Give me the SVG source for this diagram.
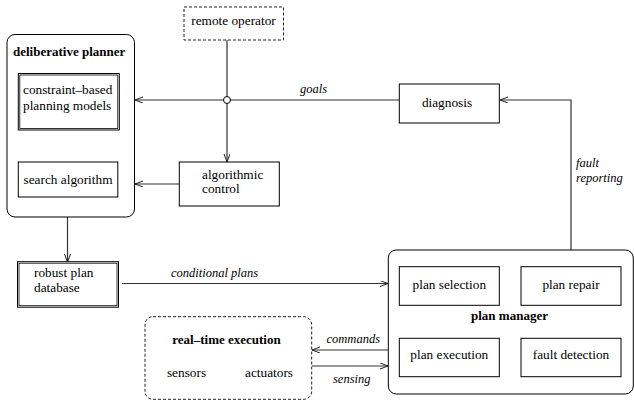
<svg xmlns="http://www.w3.org/2000/svg" width="634" height="403" viewBox="0 0 634 403">
<defs>
<marker id="ah" markerWidth="10" markerHeight="8" refX="8" refY="3" orient="auto" markerUnits="userSpaceOnUse">
<path d="M0,0 L8,3 L0,6" fill="none" stroke="#222" stroke-width="1"/>
</marker>
</defs>
<style>
.box{fill:#fff;stroke:#000;stroke-width:1}
.in{fill:none;stroke:#000;stroke-width:0.8}
.dash{fill:none;stroke:#222;stroke-width:1;stroke-dasharray:3,2}
.t{font-family:'Liberation Serif','DejaVu Serif','Noto Serif','Times New Roman',serif;font-size:13.3px;fill:#000}
.b{font-family:'Liberation Serif','DejaVu Serif','Noto Serif','Times New Roman',serif;font-size:13px;font-weight:bold;fill:#000}
.i{font-family:'Liberation Serif','DejaVu Serif','Noto Serif','Times New Roman',serif;font-size:12.5px;font-style:italic;fill:#000}
.c{fill:none;stroke:#333;stroke-width:1.2}
</style>
<rect width="634" height="403" fill="#fff"/>
<g id="connectors">
<line class="c" x1="399" y1="100" x2="135" y2="100" marker-end="url(#ah)"/>
<line class="c" x1="227" y1="40" x2="227" y2="162" marker-end="url(#ah)"/>
<line class="c" x1="179" y1="184" x2="135" y2="184" marker-end="url(#ah)"/>
<line class="c" x1="67.5" y1="130" x2="67.5" y2="162" marker-end="url(#ah)"/>
<line class="c" x1="67.5" y1="217" x2="67.5" y2="262" marker-end="url(#ah)"/>
<polyline class="c" points="571,250 571,100 500,100" marker-end="url(#ah)"/>
<line class="c" x1="122" y1="283.5" x2="388" y2="283.5" marker-end="url(#ah)"/>
<line class="c" x1="388" y1="350" x2="312" y2="350" marker-end="url(#ah)"/>
<line class="c" x1="312" y1="366" x2="388" y2="366" marker-end="url(#ah)"/>
<line class="c" x1="521" y1="284.5" x2="499.5" y2="284.5" marker-end="url(#ah)"/>
<line class="c" x1="449" y1="305.5" x2="449" y2="338" marker-end="url(#ah)"/>
<line class="c" x1="499.5" y1="355" x2="521" y2="355" marker-end="url(#ah)"/>
<line class="c" x1="571" y1="338" x2="571" y2="305.5" marker-end="url(#ah)"/>
<circle cx="227" cy="100" r="3.5" fill="#fff" stroke="#000" stroke-width="1"/>
<text class="i" x="300" y="93">goals</text>
<text class="i" x="576" y="167">fault</text>
<text class="i" x="576" y="182">reporting</text>
<text class="i" x="214.5" y="277" text-anchor="middle">conditional plans</text>
<text class="i" x="380" y="343" text-anchor="end">commands</text>
<text class="i" x="333" y="382.5">sensing</text>
</g>
<g id="remote-operator">
<rect class="dash" x="184" y="7" width="99.5" height="33"/>
<text class="t" x="233.5" y="24.5" text-anchor="middle">remote operator</text>
</g>
<g id="deliberative-planner">
<rect class="box" x="7" y="34.5" width="127.5" height="182.5" rx="8"/>
<text class="b" x="13" y="56">deliberative planner</text>
</g>
<g id="constraint-based">
<rect class="box" x="18.3" y="73.5" width="101" height="56.5"/>
<rect class="in" x="19.8" y="75" width="98" height="53.5"/>
<text class="t" x="23" y="94">constraint–based</text>
<text class="t" x="23" y="110">planning models</text>
</g>
<g id="search-algorithm">
<rect class="box" x="18.3" y="162" width="99.5" height="35"/>
<text class="t" x="68" y="184" text-anchor="middle">search algorithm</text>
</g>
<g id="algorithmic-control">
<rect class="box" x="179.3" y="162" width="100" height="44"/>
<text class="t" x="202" y="179">algorithmic</text>
<text class="t" x="202" y="193">control</text>
</g>
<g id="diagnosis">
<rect class="box" x="399.3" y="84" width="100" height="39"/>
<text class="t" x="447" y="107" text-anchor="middle">diagnosis</text>
</g>
<g id="robust-plan-database">
<rect class="box" x="17.5" y="261.7" width="101" height="45.5"/>
<rect class="in" x="19" y="263.2" width="98" height="42.5"/>
<text class="t" x="34" y="277">robust plan</text>
<text class="t" x="34" y="292">database</text>
</g>
<g id="real-time-execution">
<rect class="dash" x="145" y="316.7" width="166.7" height="82.6" rx="8"/>
<text class="b" x="226.5" y="344" text-anchor="middle">real–time execution</text>
<text class="t" x="186.5" y="376.7" text-anchor="middle">sensors</text>
<text class="t" x="269" y="376.7" text-anchor="middle">actuators</text>
</g>
<g id="plan-manager">
<rect class="box" x="388.3" y="250" width="245" height="144" rx="8"/>
<text class="b" x="509.5" y="320" text-anchor="middle">plan manager</text>
</g>
<g id="plan-selection">
<rect class="box" x="399.3" y="266.7" width="100" height="38.6"/>
<text class="t" x="449.3" y="289" text-anchor="middle">plan selection</text>
</g>
<g id="plan-repair">
<rect class="box" x="521" y="266.7" width="100" height="38.6"/>
<text class="t" x="571" y="289" text-anchor="middle">plan repair</text>
</g>
<g id="plan-execution">
<rect class="box" x="399.3" y="338.3" width="100" height="38.4"/>
<text class="t" x="449.3" y="359.3" text-anchor="middle">plan execution</text>
</g>
<g id="fault-detection">
<rect class="box" x="521" y="338.3" width="100" height="38.4"/>
<text class="t" x="571" y="359.3" text-anchor="middle">fault detection</text>
</g>
</svg>
